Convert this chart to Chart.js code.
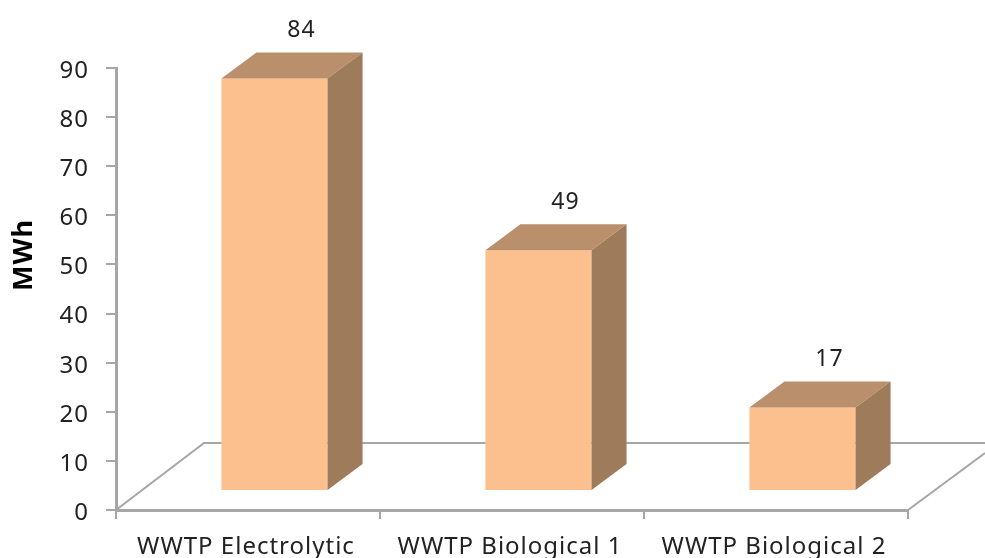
<!DOCTYPE html>
<html lang="en">
  <head>
    <meta charset="UTF-8" />
    <title>WWTP energy</title>
    <script src="https://cdn.jsdelivr.net/npm/chart.js"></script>
    <style>
      body { margin: 0; background: #fff; }
      canvas { display: block; filter: blur(0.45px); }
    </style>
  </head>
  <body>
    <canvas id="myChart" width="985" height="558"></canvas>

    <script>
      const categories = ["WWTP Electrolytic", "WWTP Biological 1", "WWTP Biological 2"];
      const energyMWh = [84, 49, 17];
      const yTicks = [0, 10, 20, 30, 40, 50, 60, 70, 80, 90];

      const fontName = '"Noto Sans", sans-serif';
      const frontColor = "#fbc08e";
      const topColor = "#ba8f6c";
      const sideColor = "#9e7b5a";
      const axisColor = "#a6a6a6";
      const textColor = "#222222";

      // fake 3D: how far the bars sit into the floor, and the depth of each box
      const shiftX = 26.5;
      const shiftY = -19;
      const depthX = 35;
      const depthY = -26;

      const fake3d = {
        id: "fake3d",
        beforeDraw(chart) {
          // reference text is widely spaced
          chart.ctx.letterSpacing = "1px";
        },
        beforeDatasetsDraw(chart) {
          const { ctx, chartArea } = chart;
          const { left, right, bottom } = chartArea;
          ctx.save();
          // floor
          ctx.strokeStyle = axisColor;
          ctx.lineWidth = 2;
          ctx.beginPath();
          ctx.moveTo(left, bottom);
          ctx.lineTo(left + 88, bottom - 67);
          ctx.lineTo(chart.width, bottom - 67);
          ctx.moveTo(right, bottom);
          ctx.lineTo(chart.width, bottom - 57);
          ctx.stroke();
          // axis title sits above the middle of the axis
          ctx.translate(24, 255);
          ctx.rotate(-Math.PI / 2);
          ctx.fillStyle = "#000000";
          ctx.font = "bold 27px " + fontName;
          ctx.textAlign = "center";
          ctx.textBaseline = "middle";
          ctx.fillText("MWh", 0, 0);
          ctx.restore();
          // bars are moved up off the axis line
          ctx.save();
          ctx.translate(shiftX, shiftY);
        },
        afterDatasetsDraw(chart) {
          const { ctx } = chart;
          const bars = chart.getDatasetMeta(0).data;
          bars.forEach((bar, i) => {
            const l = bar.x - bar.width / 2;
            const r = bar.x + bar.width / 2;
            ctx.fillStyle = topColor;
            ctx.beginPath();
            ctx.moveTo(l, bar.y);
            ctx.lineTo(l + depthX, bar.y + depthY);
            ctx.lineTo(r + depthX, bar.y + depthY);
            ctx.lineTo(r, bar.y);
            ctx.closePath();
            ctx.fill();

            ctx.fillStyle = sideColor;
            ctx.beginPath();
            ctx.moveTo(r, bar.y);
            ctx.lineTo(r + depthX, bar.y + depthY);
            ctx.lineTo(r + depthX, bar.base + depthY);
            ctx.lineTo(r, bar.base);
            ctx.closePath();
            ctx.fill();

            ctx.fillStyle = textColor;
            ctx.font = "23px " + fontName;
            ctx.textAlign = "center";
            ctx.textBaseline = "middle";
            ctx.fillText(String(energyMWh[i]), bar.x + 27, bar.y - 48);
          });
          ctx.restore();
        },
      };

      const ctx = document.getElementById("myChart").getContext("2d");
      const myChart = new Chart(ctx, {
        type: "bar",
        data: {
          labels: categories,
          datasets: [
            {
              label: "MWh",
              data: energyMWh,
              backgroundColor: frontColor,
              borderWidth: 0,
              categoryPercentage: 1,
              barPercentage: 0.402,
            },
          ],
        },
        options: {
          responsive: false,
          animation: false,
          layout: { padding: { top: 68, right: 77, bottom: 0, left: 0 } },
          plugins: { legend: { display: false }, tooltip: { enabled: false } },
          scales: {
            x: {
              afterFit: (scale) => { scale.height = 48; },
              border: { color: axisColor, width: 3 },
              grid: { drawOnChartArea: false, color: axisColor, lineWidth: 2, tickLength: 9 },
              ticks: {
                color: textColor,
                padding: 14,
                labelOffset: -2,
                maxRotation: 0,
                font: { family: fontName, size: 24 },
              },
            },
            y: {
              min: 0,
              max: 90,
              afterFit: (scale) => { scale.width = 116; },
              afterBuildTicks: (scale) => { scale.ticks = yTicks.map((v) => ({ value: v })); },
              border: { color: axisColor, width: 3 },
              grid: { drawOnChartArea: false, color: axisColor, lineWidth: 2, tickLength: 10 },
              ticks: {
                color: textColor,
                padding: 17,
                labelOffset: 3,
                font: { family: fontName, size: 24 },
              },
            },
          },
        },
        plugins: [fake3d],
      });
    </script>
  </body>
</html>
